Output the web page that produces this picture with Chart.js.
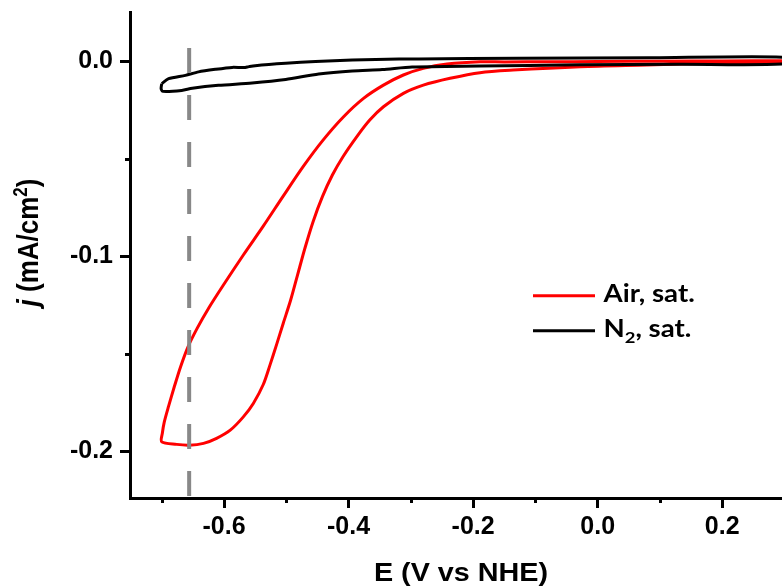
<!DOCTYPE html>
<html>
<head>
<meta charset="utf-8">
<script src="https://cdn.jsdelivr.net/npm/chart.js@4.4.1/dist/chart.umd.min.js"></script>
<style>
  html, body { margin: 0; padding: 0; background: #fff; }
  #wrap { width: 782px; height: 586px; }
</style>
</head>
<body>
<div id="wrap"><canvas id="cv" width="782" height="586"></canvas></div>
<script>
// Cyclic voltammograms: potential E (V vs NHE) against current density j (mA/cm2).

// Air-saturated scan (loop: upper branch right→left, turn at -0.70 V, lower branch back)
const airE = [0.300, 0.200, 0.100, 0.000, -0.078, -0.150, -0.189, -0.242, -0.280, -0.312,
  -0.344, -0.376, -0.408, -0.441, -0.473, -0.505, -0.537, -0.569, -0.601, -0.625,
  -0.643, -0.658, -0.670, -0.680, -0.689, -0.696, -0.699, -0.700,
  -0.676, -0.656, -0.633, -0.612, -0.590, -0.569, -0.553, -0.537, -0.526, -0.515,
  -0.505, -0.493, -0.482, -0.470, -0.457, -0.442, -0.426, -0.409, -0.387, -0.366,
  -0.344, -0.312, -0.280, -0.237, -0.189, -0.136, -0.028, 0.079, 0.185, 0.300];
const airJ = [0.0004, 0.0003, 0.0002, 0.0000, -0.0001, -0.0002, -0.0001, -0.0013, -0.0035, -0.0069,
  -0.0121, -0.0189, -0.0283, -0.0403, -0.0539, -0.0690, -0.0844, -0.0992, -0.1146, -0.1266,
  -0.1367, -0.1464, -0.1567, -0.1669, -0.1767, -0.1849, -0.1905, -0.1950,
  -0.1963, -0.1967, -0.1958, -0.1932, -0.1890, -0.1822, -0.1753, -0.1656, -0.1554, -0.1445,
  -0.1343, -0.1223, -0.1095, -0.0956, -0.0821, -0.0693, -0.0582, -0.0488, -0.0386, -0.0300,
  -0.0232, -0.0163, -0.0121, -0.0086, -0.0057, -0.0044, -0.0027, -0.0018, -0.0009, -0.0004];

// N2-saturated scan
const n2E = [-0.700, -0.689, -0.662, -0.641, -0.614, -0.587, -0.568, -0.560, -0.550, -0.501,
  -0.453, -0.394, -0.319, -0.287, -0.126, 0.083, 0.300, 0.300, 0.131, -0.029,
  -0.190, -0.298, -0.346, -0.394, -0.448, -0.501, -0.555, -0.609, -0.651, -0.668,
  -0.698, -0.701, -0.700];
const n2J = [-0.0113, -0.0088, -0.0071, -0.0053, -0.0040, -0.0030, -0.0031, -0.0026, -0.0021, -0.0009,
  0.0000, 0.0008, 0.0013, 0.0013, 0.0017, 0.0019, 0.0022, -0.0012, -0.0014, -0.0017,
  -0.0023, -0.0028, -0.0041, -0.0048, -0.0064, -0.0092, -0.0110, -0.0122, -0.0137, -0.0148,
  -0.0153, -0.0140, -0.0113];

// Vertical reference potential
const refE = [-0.656, -0.656];
const refJ = [0.007, -0.224];

// Labelled (major) ticks; the halfway ticks are unlabelled minor ticks
const xMajorTicks = [-0.6, -0.4, -0.2, 0.0, 0.2];
const yMajorTicks = [0.0, -0.1, -0.2];

const seriesNames = ['Air, sat.', 'N2, sat.'];

const AXIS_FONT = '"Liberation Sans", Arial, Helvetica, sans-serif';
const LEGEND_FONT = 'Lato, "Liberation Sans", sans-serif';
const STRETCH = 1.15;

const pts = (xs, ys) => xs.map((x, i) => ({ x, y: ys[i] }));
const isMajor = (list, v) => list.some(m => Math.abs(m - v) < 1e-6);

function drawRuns(ctx, runs, x, y, align) {
  let total = 0;
  runs.forEach(r => { ctx.font = r.font; r.w = ctx.measureText(r.text).width; total += r.w; });
  let cx = align === 'center' ? x - total / 2 : x;
  ctx.textAlign = 'left';
  runs.forEach(r => { ctx.font = r.font; ctx.fillText(r.text, cx, y + (r.dy || 0)); cx += r.w; });
}

const decor = {
  id: 'decor',
  afterDraw(chart) {
    const ctx = chart.ctx;
    const xs = chart.scales.x, ys = chart.scales.y;
    const area = chart.chartArea;
    ctx.save();
    ctx.strokeStyle = '#000';
    ctx.lineWidth = 3;
    ctx.lineCap = 'butt';
    // minor tick marks
    xs.ticks.forEach(t => {
      if (isMajor(xMajorTicks, t.value)) return;
      const px = Math.round(xs.getPixelForValue(t.value)) + 0.5;
      ctx.beginPath(); ctx.moveTo(px, area.bottom); ctx.lineTo(px, area.bottom + 5); ctx.stroke();
    });
    ys.ticks.forEach(t => {
      if (isMajor(yMajorTicks, t.value)) return;
      const py = Math.round(ys.getPixelForValue(t.value)) + 0.5;
      ctx.beginPath(); ctx.moveTo(area.left, py); ctx.lineTo(area.left - 5, py); ctx.stroke();
    });

    ctx.fillStyle = '#000';
    ctx.textBaseline = 'alphabetic';

    // x-axis title
    ctx.save();
    ctx.translate(461, 580.5);
    ctx.scale(STRETCH, 1);
    drawRuns(ctx, [{ text: 'E (V vs NHE)', font: 'bold 25px ' + AXIS_FONT }], 0, 0, 'center');
    ctx.restore();

    // y-axis title
    ctx.save();
    ctx.translate(38, 242.5);
    ctx.scale(STRETCH, 1);
    ctx.rotate(-Math.PI / 2);
    drawRuns(ctx, [
      { text: 'j', font: 'italic bold 26px ' + AXIS_FONT },
      { text: ' (mA/cm', font: 'bold 26px ' + AXIS_FONT },
      { text: '2', font: 'bold 17px ' + AXIS_FONT, dy: -10 },
      { text: ')', font: 'bold 26px ' + AXIS_FONT }
    ], 0, 0, 'center');
    ctx.restore();

    // legend
    const legendRows = [
      { color: chart.data.datasets[2].borderColor, lineY: 295.7, base: 301.7,
        runs: [{ text: seriesNames[0], font: 'bold 24px ' + LEGEND_FONT }] },
      { color: chart.data.datasets[1].borderColor, lineY: 330.7, base: 336.7,
        runs: [
          { text: 'N', font: 'bold 24px ' + LEGEND_FONT },
          { text: '2', font: 'bold 16px ' + LEGEND_FONT, dy: 6 },
          { text: ', sat.', font: 'bold 24px ' + LEGEND_FONT }
        ] }
    ];
    legendRows.forEach(row => {
      ctx.strokeStyle = row.color;
      ctx.lineWidth = 3;
      ctx.beginPath(); ctx.moveTo(533, row.lineY); ctx.lineTo(595, row.lineY); ctx.stroke();
      ctx.save();
      ctx.translate(603.5, row.base);
      ctx.scale(STRETCH, 1);
      drawRuns(ctx, row.runs, 0, 0, 'left');
      ctx.restore();
    });
    ctx.restore();
  }
};

new Chart(document.getElementById('cv'), {
  type: 'scatter',
  data: {
    datasets: [
      { label: 'reference potential', data: pts(refE, refJ), showLine: true,
        borderColor: '#888888', borderWidth: 4, borderDash: [25, 22], borderCapStyle: 'butt',
        pointRadius: 0, clip: 0 },
      { label: seriesNames[1], data: pts(n2E, n2J), showLine: true,
        borderColor: '#000000', borderWidth: 3, borderJoinStyle: 'round',
        pointRadius: 0, tension: 0.25 },
      { label: seriesNames[0], data: pts(airE, airJ), showLine: true,
        borderColor: '#ff0000', borderWidth: 3, borderJoinStyle: 'round',
        pointRadius: 0, tension: 0.3 }
    ]
  },
  options: {
    responsive: false,
    animation: false,
    devicePixelRatio: 1,
    layout: { padding: { top: 12, left: 0, right: 0, bottom: 0 } },
    plugins: { legend: { display: false }, tooltip: { enabled: false } },
    scales: {
      x: {
        type: 'linear', min: -0.751, max: 0.296, z: 1,
        border: { color: '#000', width: 3 },
        grid: {
          drawOnChartArea: false, drawTicks: true, tickLength: 10, tickWidth: 3,
          tickColor: c => (c.tick && isMajor(xMajorTicks, c.tick.value)) ? '#000' : 'rgba(0,0,0,0)'
        },
        ticks: {
          stepSize: 0.1, autoSkip: false, maxRotation: 0, includeBounds: false, padding: 4,
          color: '#000', font: { family: AXIS_FONT, size: 25, weight: 'bold' },
          callback: v => isMajor(xMajorTicks, v) ? v.toFixed(1) : ''
        },
        afterFit: s => { s.height = 88; s.paddingLeft = 0; s.paddingRight = 0; }
      },
      y: {
        type: 'linear', min: -0.2238, max: 0.0254, z: 1,
        border: { color: '#000', width: 3 },
        grid: {
          drawOnChartArea: false, drawTicks: true, tickLength: 10, tickWidth: 3,
          tickColor: c => (c.tick && isMajor(yMajorTicks, c.tick.value)) ? '#000' : 'rgba(0,0,0,0)'
        },
        ticks: {
          stepSize: 0.05, autoSkip: false, includeBounds: false, padding: 7,
          color: '#000', font: { family: AXIS_FONT, size: 25, weight: 'bold' },
          callback: v => isMajor(yMajorTicks, v) ? v.toFixed(1) : ''
        },
        afterFit: s => { s.width = 130; s.paddingTop = 0; s.paddingBottom = 0; }
      }
    }
  },
  plugins: [decor]
});
</script>
</body>
</html>
